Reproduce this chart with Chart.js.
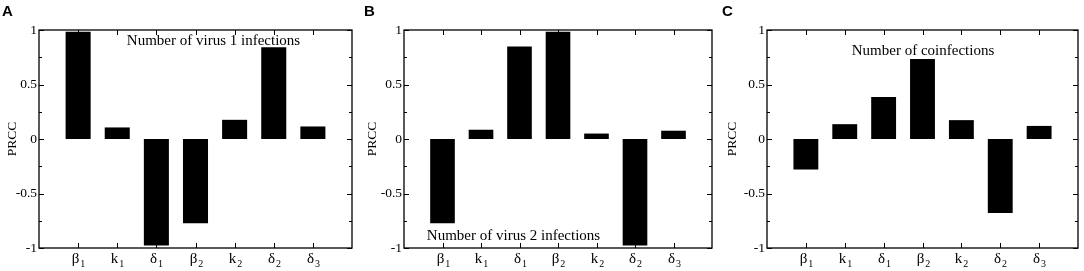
<!DOCTYPE html>
<html>
<head>
<meta charset="utf-8">
<script src="https://cdn.jsdelivr.net/npm/chart.js@4.4.1/dist/chart.umd.min.js"></script>
<style>
  html, body { margin: 0; padding: 0; background: #fff; }
  #wrap { position: relative; width: 1084px; height: 271px; background: #fff; overflow: hidden; }
  .panel { position: absolute; top: 0; height: 271px; }
  .letter { position: absolute; font-family: "Liberation Sans", Arial, sans-serif; font-weight: bold; font-size: 15px; line-height: 15px; color: #000; }
</style>
</head>
<body>
<div id="wrap">
  <div class="panel" style="left:0;width:360px"><canvas id="cA" width="360" height="271"></canvas></div>
  <div class="panel" style="left:360px;width:360px"><canvas id="cB" width="360" height="271"></canvas></div>
  <div class="panel" style="left:720px;width:364px"><canvas id="cC" width="364" height="271"></canvas></div>
  <div class="letter" style="left:2px;top:3px">A</div>
  <div class="letter" style="left:364px;top:3px">B</div>
  <div class="letter" style="left:722px;top:3px">C</div>
</div>
<script>
// ---- data ----
const paramBase = ['β', 'k', 'δ', 'β', 'k', 'δ', 'δ'];
const paramSub  = ['1', '1', '1', '2', '2', '2', '3'];
const paramPos  = [1, 2, 3, 4, 5, 6, 7];
const prccVirus1 = [0.985, 0.106, -0.976, -0.773, 0.176, 0.842, 0.115];
const prccVirus2 = [-0.773, 0.085, 0.848, 0.985, 0.05, -0.976, 0.076];
const prccCoinf  = [-0.28, 0.136, 0.385, 0.733, 0.173, -0.68, 0.12];
const yTickValues = [-1, -0.5, 0, 0.5, 1];
const yAxisTitle = 'PRCC';
const noteA = 'Number of virus 1 infections';
const noteB = 'Number of virus 2 infections';
const noteC = 'Number of coinfections';

const SERIF = '"Liberation Serif", "Times New Roman", serif';

const framePlugin = {
  id: 'framePlugin',
  afterDraw(chart, args, opts) {
    const ctx = chart.ctx;
    const a = chart.chartArea;
    const xs = chart.scales.x, ys = chart.scales.y;
    ctx.save();
    ctx.strokeStyle = '#000';
    ctx.lineWidth = 1.3;
    ctx.strokeRect(a.left, a.top, a.right - a.left, a.bottom - a.top);
    ctx.lineWidth = 1;
    // y ticks (major + minor) on both sides, inward
    for (let i = 0; i < yTickValues.length; i++) {
      const v = yTickValues[i];
      const py = Math.round(ys.getPixelForValue(v)) + 0.5;
      ctx.beginPath();
      ctx.moveTo(a.left, py); ctx.lineTo(a.left + 5, py);
      ctx.moveTo(a.right, py); ctx.lineTo(a.right - 5, py);
      ctx.stroke();
      if (i < yTickValues.length - 1) {
        const mv = (v + yTickValues[i + 1]) / 2;
        const my = Math.round(ys.getPixelForValue(mv)) + 0.5;
        ctx.beginPath();
        ctx.moveTo(a.left, my); ctx.lineTo(a.left + 3, my);
        ctx.moveTo(a.right, my); ctx.lineTo(a.right - 3, my);
        ctx.stroke();
      }
    }
    // x ticks top and bottom, inward, and labels
    for (let i = 0; i < paramPos.length; i++) {
      const px = Math.round(xs.getPixelForValue(paramPos[i])) + 0.5;
      ctx.beginPath();
      ctx.moveTo(px, a.bottom); ctx.lineTo(px, a.bottom - 5);
      ctx.moveTo(px, a.top); ctx.lineTo(px, a.top + 5);
      ctx.stroke();
      ctx.fillStyle = '#000';
      ctx.textBaseline = 'alphabetic';
      ctx.textAlign = 'left';
      ctx.font = '15px ' + SERIF;
      const bw = ctx.measureText(paramBase[i]).width;
      ctx.font = '10px ' + SERIF;
      const sw = ctx.measureText(paramSub[i]).width;
      const x0 = px - (bw + sw + 1) / 2;
      ctx.font = '15px ' + SERIF;
      ctx.fillText(paramBase[i], x0, a.bottom + 15);
      ctx.font = '10px ' + SERIF;
      ctx.fillText(paramSub[i], x0 + bw + 1, a.bottom + 19);
    }
    // note text
    ctx.font = '15px ' + SERIF;
    ctx.textAlign = 'center';
    ctx.textBaseline = 'alphabetic';
    ctx.fillText(opts.text, opts.x, opts.y);
    ctx.restore();
  }
};

function makeChart(id, values, leftW, padRight, note) {
  const pts = paramPos.map((p, i) => ({ x: p, y: values[i] }));
  return new Chart(document.getElementById(id), {
    type: 'bar',
    data: {
      datasets: [{
        data: pts,
        backgroundColor: '#000',
        borderWidth: 0,
        barPercentage: 0.64,
        categoryPercentage: 1
      }]
    },
    options: {
      responsive: false,
      animation: false,
      events: [],
      layout: { padding: { top: 30, right: padRight, bottom: 0, left: 0 } },
      plugins: {
        legend: { display: false },
        tooltip: { enabled: false },
        framePlugin: note
      },
      scales: {
        x: {
          type: 'linear',
          min: 0, max: 8,
          offset: false,
          grid: { display: false, drawTicks: false },
          border: { display: false },
          ticks: { display: false },
          afterFit(s) { s.height = 23; }
        },
        y: {
          type: 'linear',
          min: -1, max: 1,
          grid: { display: false, drawTicks: false },
          border: { display: false },
          afterBuildTicks(s) { s.ticks = yTickValues.map(v => ({ value: v })); },
          ticks: {
            color: '#000',
            padding: 2,
            font: { family: SERIF, size: 13.5 },
            callback: v => String(v)
          },
          title: {
            display: true,
            text: yAxisTitle,
            color: '#000',
            font: { family: SERIF, size: 13.5 },
            padding: { top: 4, bottom: 0 }
          },
          afterFit(s) { s.width = leftW; }
        }
      }
    },
    plugins: [framePlugin]
  });
}

makeChart('cA', prccVirus1, 39, 8, { text: noteA, x: 213.5, y: 45 });
makeChart('cB', prccVirus2, 44, 8, { text: noteB, x: 153.5, y: 240 });
makeChart('cC', prccCoinf, 47, 6, { text: noteC, x: 203, y: 55 });
</script>
</body>
</html>
